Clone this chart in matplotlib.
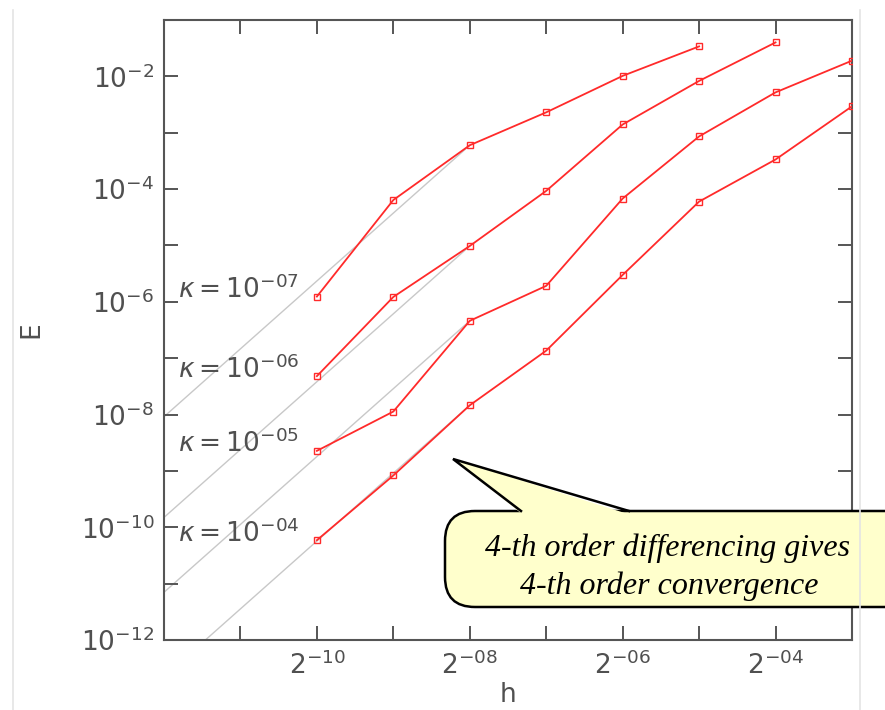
#!/usr/bin/env python
"""Convergence plot: error E vs grid spacing h for several kappa values."""
from __future__ import annotations

import numpy as np
import matplotlib
matplotlib.use("Agg")
import matplotlib.pyplot as plt
from matplotlib.patches import FancyBboxPatch, Polygon
from matplotlib.ticker import FixedLocator, FixedFormatter, NullLocator

# log2(h) for each run
H_EXP = [-10, -9, -8, -7, -6, -5, -4, -3]

KAPPA_LABELS = ["-07", "-06", "-05", "-04"]

E_K7 = [1.24e-6, 6.4e-5, 6.0e-4, 2.3e-3, 1.02e-2, 3.4e-2]
E_K6 = [4.8e-8, 1.22e-6, 9.8e-6, 9.3e-5, 1.4e-3, 8.3e-3, 4.0e-2]
E_K5 = [2.27e-9, 1.13e-8, 4.6e-7, 1.92e-6, 6.8e-5, 8.6e-4, 5.2e-3, 1.9e-2]
E_K4 = [5.9e-11, 8.3e-10, 1.46e-8, 1.36e-7, 3.0e-6, 6.0e-5, 3.35e-4, 2.94e-3]

X_TICK_EXP = list(range(-11, -3))
X_LABEL_EXP = [-10, -8, -6, -4]
Y_TICK_EXP = list(range(-12, 0))
Y_LABEL_EXP = [-12, -10, -8, -6, -4, -2]

NOTE = "4-th order differencing gives\n4-th order convergence"

RED = "#ff2a2a"
GRAY_REF = "#c8c8c8"
AXIS_COL = "#555555"
TEXT_COL = "#505050"

W, H = 885, 710


def main() -> int:
    plt.rcParams["mathtext.fontset"] = "dejavusans"
    fig = plt.figure(figsize=(W / 100, H / 100), dpi=100)
    ax = fig.add_axes([164 / W, 1 - 640 / H, (852 - 164) / W, (640 - 20) / H])

    series = [E_K7, E_K6, E_K5, E_K4]
    ref_exp = -8
    for vals in series:
        h = 2.0 ** np.array(H_EXP[: len(vals)])
        e = np.array(vals)
        # 4th-order reference line anchored at h = 2^-8
        i = H_EXP.index(ref_exp)
        h_ref = np.array([2.0 ** -12, 2.0 ** ref_exp])
        ax.plot(h_ref, e[i] * (h_ref / h[i]) ** 4, color=GRAY_REF, lw=1.0, zorder=1)
        ax.plot(h, e, color=RED, lw=1.3, marker="s", ms=4, mfc="none",
                mec=RED, mew=1.0, zorder=3)

    ax.set_xscale("log", base=2)
    ax.set_yscale("log")
    ax.set_xlim(2.0 ** -12, 2.0 ** -3)
    ax.set_ylim(1e-12, 1e-1)

    xt = [2.0 ** k for k in X_TICK_EXP]
    ax.xaxis.set_major_locator(FixedLocator(xt))
    ax.xaxis.set_major_formatter(FixedFormatter(
        [rf"$2^{{-{abs(k):02d}}}$" if k in X_LABEL_EXP else "" for k in X_TICK_EXP]))
    ax.xaxis.set_minor_locator(NullLocator())
    yt = [10.0 ** k for k in Y_TICK_EXP]
    ax.yaxis.set_major_locator(FixedLocator(yt))
    ax.yaxis.set_major_formatter(FixedFormatter(
        [rf"$10^{{{k}}}$" if k in Y_LABEL_EXP else "" for k in Y_TICK_EXP]))
    ax.yaxis.set_minor_locator(NullLocator())

    ax.tick_params(which="both", direction="in", top=True, right=True,
                   length=10, width=1.4, color=AXIS_COL, labelcolor=TEXT_COL,
                   labelsize=19, pad=8)
    ax.tick_params(axis="y", pad=7)
    for s in ax.spines.values():
        s.set_color(AXIS_COL)
        s.set_linewidth(1.5)

    ax.set_xlabel("h", fontsize=19, color=TEXT_COL, labelpad=2)
    ax.set_ylabel("E", fontsize=19, color=TEXT_COL, labelpad=26)

    # kappa labels
    kappa_y = [0.5516, 0.4231, 0.3027, 0.1586]
    for lab, yy in zip(KAPPA_LABELS, kappa_y):
        ax.text(0.02, yy, rf"$\kappa = 10^{{{lab}}}$", transform=ax.transAxes,
                fontsize=19, color=TEXT_COL, va="baseline", ha="left", zorder=2)

    # overlay in pixel coords for the callout
    ov = fig.add_axes([0, 0, 1, 1], zorder=5)
    ov.set_xlim(0, W)
    ov.set_ylim(H, 0)
    ov.axis("off")
    ov.patch.set_alpha(0)

    fill = "#ffffcc"
    box = FancyBboxPatch((445, 511), 470, 96, boxstyle="round,pad=0,rounding_size=30",
                         fc=fill, ec="black", lw=1.8, clip_on=False)
    ov.add_patch(box)
    tip = (453, 459)
    base_l, base_r = (521, 511), (629, 511)
    ov.add_patch(Polygon([tip, (base_l[0] + 1, 514), (base_r[0] - 1, 514)],
                         closed=True, fc=fill, ec="none", clip_on=False))
    ov.plot([base_l[0], tip[0], base_r[0]], [base_l[1], tip[1], base_r[1]],
            color="black", lw=1.8, solid_joinstyle="miter", clip_on=False)
    lines = NOTE.split("\n")
    ov.text(668, 556, lines[0], family="Liberation Serif", style="italic",
            fontsize=23, ha="center", va="baseline", color="black")
    ov.text(669, 594, lines[1], family="Liberation Serif", style="italic",
            fontsize=23, ha="center", va="baseline", color="black")

    # faint page borders seen in the source image
    ov.plot([13, 13], [10, H], color="#e4e4e4", lw=1.2)
    ov.plot([860, 860], [10, H], color="#e4e4e4", lw=1.2)

    fig.savefig("out.png", dpi=100)
    return 0


if __name__ == "__main__":
    raise SystemExit(main())
